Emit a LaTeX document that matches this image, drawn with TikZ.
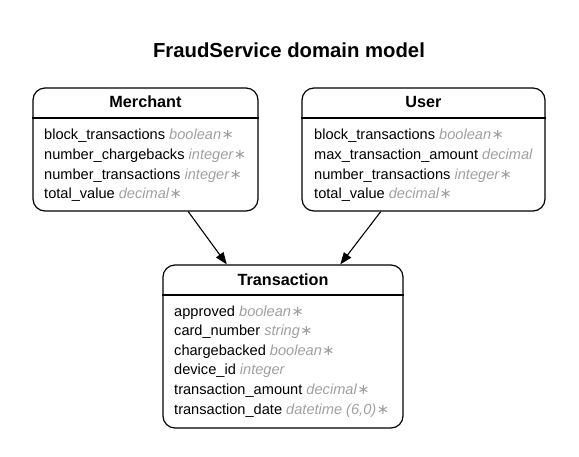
\documentclass[tikz,border=0pt]{standalone}
\usepackage{fontspec}
\setmainfont{Liberation Sans}
\newfontfamily\symfont{DejaVu Sans}
\usetikzlibrary{arrows.meta,calc}
\definecolor{typegray}{HTML}{A0A0A0}
\newcommand\ty[1]{{\color{typegray}\itshape #1}}
\newcommand\req{{\color{typegray}\hspace{0.5pt}\symfont ∗}}
\begin{document}
\begin{tikzpicture}[x=1pt,y=-1pt,
  entity/.style={draw, rounded corners=12pt, line width=1.2pt, inner sep=0pt},
  attr/.style={anchor=base west, inner sep=0pt, font=\fontsize{14.6}{17}\selectfont},
  head/.style={anchor=base, inner sep=0pt, font=\fontsize{16.2}{19}\selectfont\bfseries},
  rel/.style={line width=1.1pt, -{Triangle[length=12pt,width=9pt]}}]
\useasboundingbox (0,0) rectangle (579,456);
\node[anchor=base, inner sep=0pt, font=\fontsize{20.3}{24}\selectfont\bfseries] (title) at (289,57) {FraudService domain model};

% Merchant
\node[entity, minimum width=225pt, minimum height=123pt] (merchant) at (145.5,149.5) {};
\draw[line width=1.2pt] (merchant.west |- 0,118) -- (merchant.east |- 0,118);
\node[head] (mh) at (145.5,107) {Merchant};
\node[attr] (m1) at (44,139) {block\_transactions \ty{boolean}\req};
\node[attr] (m2) at (44,159) {number\_chargebacks \ty{integer}\req};
\node[attr] (m3) at (44,179) {number\_transactions \ty{integer}\req};
\node[attr] (m4) at (44,198.5) {total\_value \ty{decimal}\req};

% User
\node[entity, minimum width=243pt, minimum height=123pt] (user) at (423.5,149.5) {};
\draw[line width=1.2pt] (user.west |- 0,118) -- (user.east |- 0,118);
\node[head] (uh) at (423.5,107) {User};
\node[attr] (u1) at (314,139) {block\_transactions \ty{boolean}\req};
\node[attr] (u2) at (314,159) {max\_transaction\_amount \ty{decimal}};
\node[attr] (u3) at (314,179) {number\_transactions \ty{integer}\req};
\node[attr] (u4) at (314,198.5) {total\_value \ty{decimal}\req};

% Transaction
\node[entity, minimum width=240pt, minimum height=163pt] (trans) at (283,346.5) {};
\draw[line width=1.2pt] (trans.west |- 0,295) -- (trans.east |- 0,295);
\node[head] (th) at (283,285.5) {Transaction};
\node[attr] (t1) at (174,316) {approved \ty{boolean}\req};
\node[attr] (t2) at (174,335.6) {card\_number \ty{string}\req};
\node[attr] (t3) at (174,355.2) {chargebacked \ty{boolean}\req};
\node[attr] (t4) at (174,374.8) {device\_id \ty{integer}};
\node[attr] (t5) at (174,394.4) {transaction\_amount \ty{decimal}\req};
\node[attr] (t6) at (174,414) {transaction\_date \ty{datetime (6,0)}\req};

% relations
\draw[rel] ($(merchant.south west)!0.689!(merchant.south east)$) -- ($(trans.north west)!0.267!(trans.north east)$);
\draw[rel] ($(user.south west)!0.325!(user.south east)$) -- ($(trans.north west)!0.7375!(trans.north east)$);
\end{tikzpicture}
\end{document}
